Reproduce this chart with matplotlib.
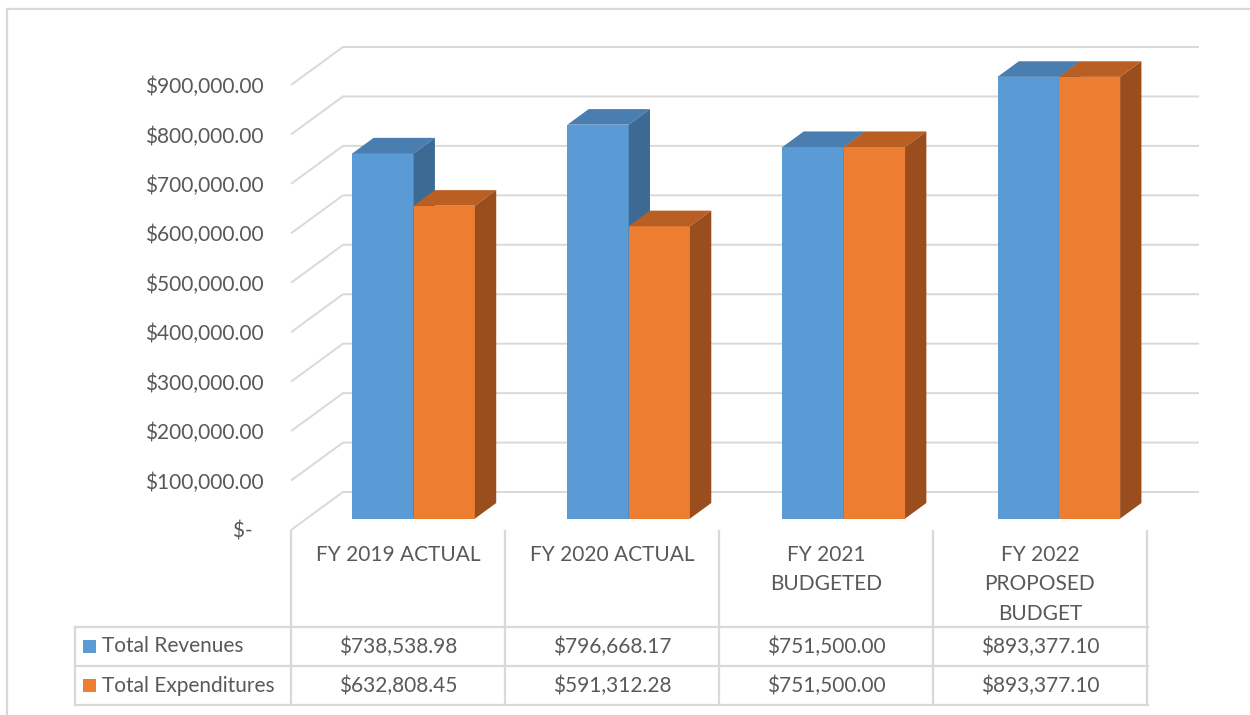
import matplotlib
matplotlib.use('Agg')
from matplotlib import pyplot as plt
from matplotlib.patches import Polygon, Rectangle
from matplotlib.lines import Line2D
from matplotlib import transforms

plt.rcParams['font.family'] = ['Lato', 'DejaVu Sans']

# Data
categories = ['FY 2019 ACTUAL', 'FY 2020 ACTUAL', 'FY 2021\nBUDGETED', 'FY 2022\nPROPOSED\nBUDGET']
series_names = ['Total Revenues', 'Total Expenditures']
revenues = [738538.98, 796668.17, 751500.00, 893377.10]
expenditures = [632808.45, 591312.28, 751500.00, 893377.10]
yticks = [0, 100000, 200000, 300000, 400000, 500000, 600000, 700000, 800000, 900000]

W, H = 1250, 715
txt = '#595959'
grid_c = '#d9d9d9'
face = ['#5b9bd5', '#ed7d31']
top_c = ['#4a7eb0', '#b95f24']
side_c = ['#3d6a94', '#9b4e1d']

fig = plt.figure(figsize=(W / 100, H / 100), dpi=100)
ax = fig.add_axes([291 / W, (H - 530) / H, (1147 - 291) / W, (530 - 85) / H])
ax.set_xlim(-0.5, 3.5)
ax.set_ylim(0, 900000)
for s in ax.spines.values():
    s.set_visible(False)
ax.set_xticks([])
ax.set_yticks(yticks)
ax.set_yticklabels(['$-  '] + ['${:,.2f}'.format(v) for v in yticks[1:]])
ax.tick_params(axis='y', length=0, pad=20, labelsize=15, labelcolor=txt)

# depth of the 3D floor, in data units
DX = 52 / 214
DY = 38 * 900000 / 445
d0, d1 = 0.30, 0.71
bw = 61.3 / 214

# gridlines (wall + floor edge)
for v in yticks:
    ax.plot([-0.5, -0.5 + DX, 3.5 + DX], [v, v + DY, v + DY], color=grid_c, lw=1.4,
            clip_on=False, zorder=1, solid_capstyle='butt')

# bars
for k, vals in enumerate([revenues, expenditures]):
    for i, v in enumerate(vals):
        xl = i - bw + k * bw + d0 * DX + 0.005 * i
        xr = xl + bw
        base = d0 * DY
        top = v + base
        ddx = (d1 - d0) * DX
        ddy = (d1 - d0) * DY
        ax.bar(xl, v, width=bw, bottom=base, align='edge', color=face[k],
               zorder=2 + k, clip_on=False, linewidth=0)
        ax.add_patch(Polygon([(xl, top), (xr, top), (xr + ddx, top + ddy), (xl + ddx, top + ddy)],
                             closed=True, facecolor=top_c[k], lw=0, zorder=2 + k, clip_on=False))
        ax.add_patch(Polygon([(xr, base), (xr, top), (xr + ddx, top + ddy), (xr + ddx, base + ddy)],
                             closed=True, facecolor=side_c[k], lw=0, zorder=2 + k, clip_on=False))

# data table below
bt = transforms.blended_transform_factory(ax.transData, fig.transFigure)


def fy(py):
    return (H - py) / H


def fx(px):
    return px / W


for xb in [-0.5, 0.5, 1.5, 2.5, 3.5]:
    fig.add_artist(Line2D([xb, xb], [fy(531), fy(705)], transform=bt, color=grid_c, lw=1.6))
for py in [627, 666, 705]:
    fig.add_artist(Line2D([fx(75), fx(1148)], [fy(py), fy(py)], transform=fig.transFigure,
                          color=grid_c, lw=1.6))
fig.add_artist(Line2D([fx(75), fx(75)], [fy(627), fy(705)], transform=fig.transFigure,
                      color=grid_c, lw=1.6))

for i, c in enumerate(categories):
    fig.text(i, fy(545), c, transform=bt, ha='center', va='top', fontsize=15,
             color=txt, linespacing=1.58, multialignment='center')

row_y = [646, 685]
for k, (name, vals) in enumerate(zip(series_names, [revenues, expenditures])):
    fig.add_artist(Rectangle((fx(83), fy(row_y[k] + 6.5)), 13 / W, 13 / H, transform=fig.transFigure,
                             facecolor=face[k], lw=0))
    fig.text(fx(102), fy(row_y[k] + 0.5), name, ha='left', va='center', fontsize=15, color=txt)
    for i, v in enumerate(vals):
        fig.text(i, fy(row_y[k] + 0.5), '${:,.2f}'.format(v), transform=bt, ha='center', va='center',
                 fontsize=15, color=txt)

# chart area border
fig.add_artist(Rectangle((fx(7), -0.1), 1.2, fy(9) + 0.1, transform=fig.transFigure,
                         fill=False, edgecolor=grid_c, lw=1.6))

plt.savefig('out.png', dpi=100)
